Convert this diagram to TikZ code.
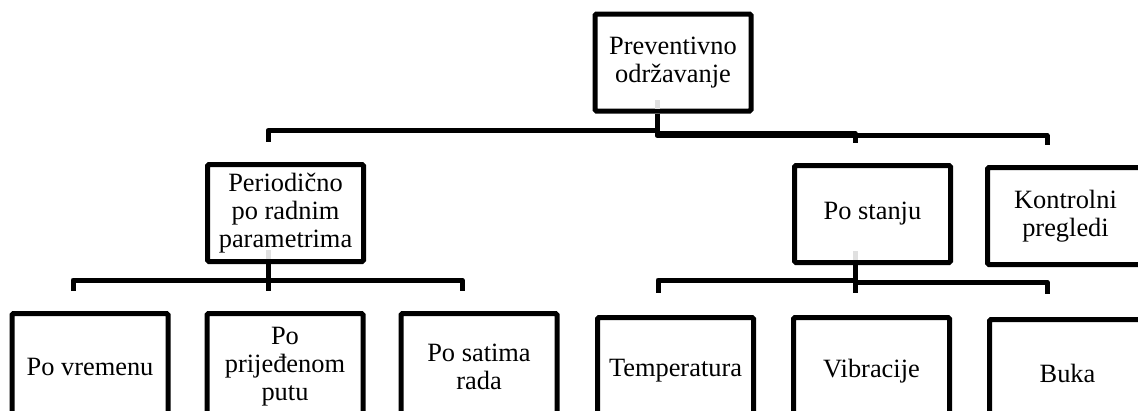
\documentclass[tikz,border=0pt]{standalone}
\usepackage{fontspec}
\setmainfont{Liberation Serif}
\usetikzlibrary{positioning}

\begin{document}
\begin{tikzpicture}[x=1pt, y=-1pt,
        blok/.style={rectangle, draw, line width=5pt, rounded corners=1.5pt, fill=white, minimum width=156pt, minimum height=97pt, align=center, inner sep=2pt, font=\fontsize{26.4pt}{28pt}\selectfont},
        nizak/.style={blok, minimum height=107pt},
        veza/.style={-, line width=5pt, line join=round},
        sjena/.style={-, line width=5pt, color=black!12}]
        \useasboundingbox (0,0) rectangle (1138,410);
        \clip (0,0) rectangle (1138,410);
        %% Level 1
        \node[blok] (root) at (673,62.5) {Preventivno\\održavanje};
        %% Level 2
        \node[blok] (period) at (285.5,213) {Periodično\\po radnim\\parametrima};
        \node[blok] (stanje) at (872.5,214) {Po stanju};
        \node[blok, right=32pt of stanje, yshift=-2pt] (kontrola) {Kontrolni\\pregledi};
        %% Level 3
        \node[nizak] (vrijeme) at (90,367) {Po vremenu};
        \node[nizak, right=34pt of vrijeme] (put) {Po\\prijeđenom\\putu};
        \node[nizak, right=33pt of put] (sati) {Po satima\\rada};
        \node[nizak] (temp) at (675.5,371) {Temperatura};
        \node[nizak, right=35pt of temp] (vibr) {Vibracije};
        \node[nizak, right=35pt of vibr, yshift=-2pt] (buka) {Buka};

        %% free ends of the connectors
        \coordinate (k1) at (268,142);
        \coordinate (k2) at (855,143);
        \coordinate (k3) at (1047,145);
        \coordinate (k4) at (73,291);
        \coordinate (k5) at (268,291);
        \coordinate (k6) at (462,291);
        \coordinate (k7) at (658,293);
        \coordinate (k8) at (855,293);
        \coordinate (k9) at (1047,294);

        %% root -> level 2
        \draw[veza] ([xshift=-16pt]root.south) -- ++(0,-17pt) -| (k1);
        \draw[veza] ([xshift=-16pt]root.south) -- ++(0,-20pt) -| (k2);
        \draw[veza] ([xshift=-16pt]root.south) -- ++(0,-22pt) -| (k3);
        %% periodicno -> level 3
        \draw[veza] ([xshift=-17.5pt]period.south) -- ++(0,-16pt) -| (k4);
        \draw[veza] ([xshift=-17.5pt]period.south) -- ++(0,-16pt) -| (k5);
        \draw[veza] ([xshift=-17.5pt]period.south) -- ++(0,-16pt) -| (k6);
        %% po stanju -> level 3
        \draw[veza] ([xshift=-17.5pt]stanje.south) -- ++(0,-15pt) -| (k7);
        \draw[veza] ([xshift=-17.5pt]stanje.south) -- ++(0,-17pt) -| (k8);
        \draw[veza] ([xshift=-17.5pt]stanje.south) -- ++(0,-17pt) -| (k9);

        %% faint stubs inside the boxes
        \draw[sjena] ([xshift=-16pt,yshift=5pt]root.south) -- ++(0,9pt);
        \draw[sjena] ([xshift=-17.5pt,yshift=5pt]period.south) -- ++(0,9pt);
        \draw[sjena] ([xshift=-17.5pt,yshift=5pt]stanje.south) -- ++(0,9pt);
\end{tikzpicture}
\end{document}
